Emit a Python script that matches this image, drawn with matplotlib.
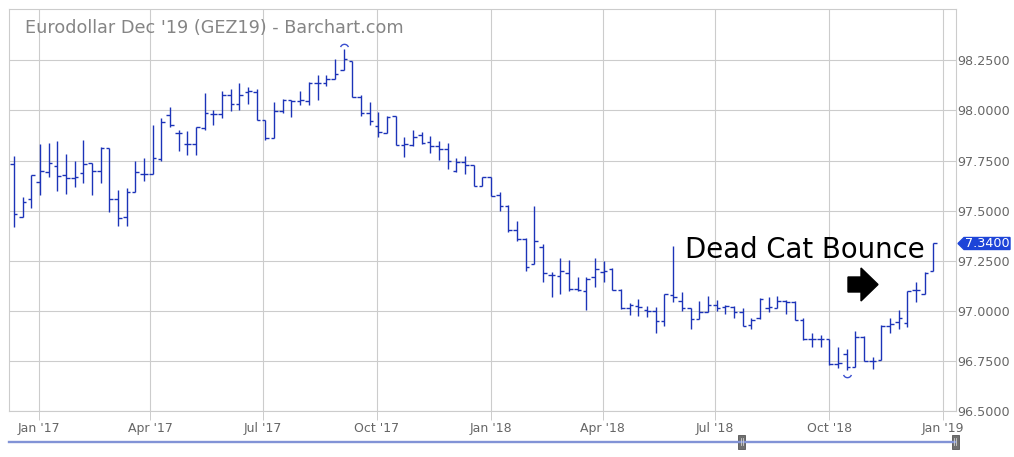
import numpy as np
import pandas as pd
import matplotlib
matplotlib.use('Agg')
import matplotlib.pyplot as plt
import matplotlib.dates as mdates
from matplotlib.path import Path
from matplotlib.patches import Polygon, Rectangle
from matplotlib.lines import Line2D
from matplotlib.transforms import offset_copy

# weekly OHLC (Dec '16 .. Dec '18)
opens = [97.733, 97.470, 97.557, 97.642, 97.692, 97.723, 97.677, 97.663, 97.687, 97.737,
         97.697, 97.812, 97.557, 97.470, 97.595, 97.683, 97.682, 97.758, 97.975, 97.888,
         97.833, 97.833, 97.913, 97.983, 97.980, 98.075, 98.030, 98.092, 98.092, 97.953,
         97.863, 97.995, 98.050, 98.047, 98.047, 98.138, 98.138, 98.158, 98.200, 98.245,
         98.067, 97.988, 97.925, 97.890, 97.970, 97.828, 97.828, 97.878, 97.845, 97.825,
         97.808, 97.700, 97.742, 97.728, 97.622, 97.670, 97.580, 97.525, 97.403, 97.358,
         97.233, 97.320, 97.180, 97.175, 97.188, 97.108, 97.100, 97.167, 97.192, 97.208,
         97.103, 97.013, 97.023, 97.003, 96.997, 96.950, 97.080, 97.047, 97.013, 96.958,
         96.995, 97.030, 97.020, 97.020, 96.995, 96.930, 96.962, 97.013, 97.013, 97.047,
         97.042, 96.953, 96.858, 96.858, 96.858, 96.737, 96.783, 96.720, 96.867, 96.750,
         96.753, 96.925, 96.942, 96.940, 97.103, 97.085, 97.200]
highs = [97.773, 97.570, 97.678, 97.833, 97.840, 97.850, 97.783, 97.750, 97.853, 97.737,
         97.817, 97.812, 97.603, 97.613, 97.750, 97.762, 97.927, 97.962, 98.017, 97.903,
         97.900, 97.917, 98.087, 98.000, 98.097, 98.108, 98.138, 98.117, 98.108, 97.953,
         98.042, 98.058, 98.050, 98.097, 98.142, 98.175, 98.175, 98.258, 98.308, 98.245,
         98.078, 98.042, 97.992, 97.972, 97.970, 97.867, 97.903, 97.892, 97.872, 97.850,
         97.838, 97.762, 97.775, 97.728, 97.670, 97.670, 97.592, 97.530, 97.450, 97.363,
         97.525, 97.333, 97.192, 97.263, 97.253, 97.170, 97.170, 97.263, 97.250, 97.213,
         97.108, 97.037, 97.060, 97.025, 97.017, 97.083, 97.325, 97.095, 97.013, 97.047,
         97.072, 97.053, 97.030, 97.025, 97.013, 96.963, 97.063, 97.067, 97.073, 97.053,
         97.050, 96.962, 96.887, 96.880, 96.858, 96.817, 96.808, 96.900, 96.875, 96.770,
         96.930, 96.962, 97.003, 97.100, 97.145, 97.195, 97.340]
lows = [97.417, 97.467, 97.512, 97.578, 97.667, 97.600, 97.583, 97.620, 97.640, 97.580,
        97.640, 97.495, 97.425, 97.425, 97.595, 97.650, 97.682, 97.748, 97.917, 97.797,
        97.780, 97.780, 97.903, 97.930, 97.963, 97.995, 98.000, 98.030, 97.950, 97.853,
        97.862, 97.987, 97.967, 98.025, 98.025, 98.053, 98.120, 98.158, 98.200, 98.067,
        97.972, 97.928, 97.867, 97.890, 97.828, 97.767, 97.825, 97.833, 97.788, 97.755,
        97.708, 97.695, 97.683, 97.622, 97.622, 97.575, 97.497, 97.392, 97.350, 97.200,
        97.233, 97.142, 97.067, 97.083, 97.100, 97.100, 97.003, 97.120, 97.142, 97.103,
        97.008, 96.977, 96.972, 96.970, 96.887, 96.925, 97.042, 97.000, 96.908, 96.958,
        96.995, 97.000, 96.983, 96.962, 96.925, 96.908, 96.958, 96.995, 97.013, 96.983,
        96.953, 96.853, 96.820, 96.817, 96.730, 96.717, 96.705, 96.720, 96.750, 96.712,
        96.753, 96.887, 96.908, 96.917, 97.042, 97.083, 97.200]
closes = [97.482, 97.545, 97.678, 97.698, 97.737, 97.672, 97.663, 97.667, 97.732, 97.697,
          97.813, 97.557, 97.463, 97.592, 97.692, 97.685, 97.765, 97.943, 97.928, 97.888,
          97.833, 97.917, 97.987, 97.983, 98.075, 98.030, 98.075, 98.097, 97.950, 97.863,
          97.995, 98.050, 98.047, 98.050, 98.138, 98.138, 98.155, 98.183, 98.258, 98.067,
          97.988, 97.945, 97.892, 97.967, 97.828, 97.833, 97.867, 97.838, 97.825, 97.808,
          97.750, 97.742, 97.728, 97.622, 97.670, 97.575, 97.525, 97.403, 97.358, 97.220,
          97.347, 97.188, 97.180, 97.200, 97.108, 97.103, 97.158, 97.208, 97.200, 97.103,
          97.013, 97.030, 97.017, 96.997, 96.950, 97.083, 97.067, 97.013, 96.958, 96.995,
          97.030, 97.012, 97.025, 96.995, 96.925, 96.953, 97.058, 97.017, 97.047, 97.042,
          96.953, 96.858, 96.858, 96.858, 96.737, 96.742, 96.720, 96.867, 96.750, 96.748,
          96.925, 96.933, 96.963, 97.097, 97.103, 97.190, 97.340]
weeks = pd.date_range('2016-12-12', periods=len(opens), freq='7D')

y_ticks = [96.50, 96.75, 97.00, 97.25, 97.50, 97.75, 98.00, 98.25]
title = "Eurodollar Dec '19 (GEZ19) - Barchart.com"
last_label = "7.3400"

W, H = 1014, 457
fig = plt.figure(figsize=(W / 100, H / 100), dpi=100)
ax = fig.add_axes([9.3 / W, 1 - 411 / H, (956 - 9.3) / W, (411 - 9.3) / H])

bar_col = '#1c33b8'
grid_col = '#cccccc'
x = mdates.date2num(weeks)
half = 2.9  # tick length in days
ax.vlines(x, lows, highs, color=bar_col, lw=1.0)
ax.hlines(opens, x - half, x, color=bar_col, lw=1.0)
ax.hlines(closes, x, x + half, color=bar_col, lw=1.0)

# high / low arcs
i_hi = int(np.argmax(highs))
i_lo = int(np.argmin(lows))
ax.plot(x[i_hi], highs[i_hi], marker=Path.arc(20, 160), ms=6, mfc='none',
        mec='#3a4fcf', mew=1.0, transform=offset_copy(ax.transData, fig, y=1, units='dots'))
ax.plot(x[i_lo], lows[i_lo], marker=Path.arc(200, 340), ms=6, mfc='none',
        mec='#3a4fcf', mew=1.0, transform=offset_copy(ax.transData, fig, y=-3, units='dots'))

ax.set_xlim(mdates.date2num(pd.Timestamp('2016-12-08 07:00')),
            mdates.date2num(pd.Timestamp('2019-01-11 06:00')))
ax.set_ylim(96.5, 98.505)

ax.xaxis.set_major_locator(mdates.MonthLocator(bymonth=[1, 4, 7, 10]))
ax.xaxis.set_major_formatter(mdates.DateFormatter("%b '%y"))
ax.yaxis.tick_right()
ax.set_yticks(y_ticks)
ax.set_yticklabels([f"{v:.4f}" for v in y_ticks])
ax.tick_params(axis='x', length=6.5, color=grid_col, width=0.7, pad=1.5,
               labelcolor='#666666', labelsize=9)
ax.tick_params(axis='y', length=0, pad=1.2, labelcolor='#666666', labelsize=9.2)
ax.grid(True, color=grid_col, lw=0.8)
ax.set_axisbelow(True)
for s in ax.spines.values():
    s.set_color(grid_col)
    s.set_linewidth(0.8)

fig.text(25 / W, 1 - 28 / H, title, color='#858585', fontsize=12.7, va='center', ha='left')
fig.text(685 / W, 1 - 258 / H, "Dead Cat Bounce", color='black', fontsize=19.8,
         va='baseline', ha='left')

# block arrow
arrow_px = [(848, 277), (861, 277), (861, 268), (878, 284.5), (861, 301), (861, 292), (848, 292)]
fig.add_artist(Polygon([(px / W, 1 - py / H) for px, py in arrow_px], closed=True,
                       transform=fig.transFigure, color='black'))

# last price tag
tag_px = [(958, 243.5), (964, 237.5), (1010, 237.5), (1010, 249.5), (964, 249.5)]
fig.add_artist(Polygon([(px / W, 1 - py / H) for px, py in tag_px], closed=True,
                       transform=fig.transFigure, color='#1d44d8'))
fig.text(964.5 / W, 1 - 243.5 / H, last_label, color='white', fontsize=9.2, va='center', ha='left')

# range slider at the bottom
fig.add_artist(Line2D([9.3 / W, 955 / W], [1 - 441.5 / H] * 2, color='#8293d6', lw=1.7))
for hx in (741.5, 955):
    fig.add_artist(Rectangle(((hx - 3.5) / W, 1 - 448.5 / H), 7 / W, 14 / H,
                             transform=fig.transFigure, facecolor='#707070', edgecolor='#555555', lw=0.6))
    for dx in (-1, 1):
        fig.add_artist(Line2D([(hx + dx) / W] * 2, [1 - 445 / H, 1 - 438 / H], color='#d0d0d0', lw=0.6))

fig.savefig('out.png', dpi=100, facecolor='white')
